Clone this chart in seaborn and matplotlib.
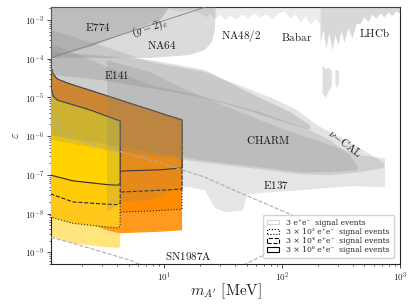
import numpy as np
import matplotlib
matplotlib.use("Agg")
import matplotlib.pyplot as plt
import seaborn as sns
from matplotlib.patches import Patch
from matplotlib.ticker import FuncFormatter, LogLocator, NullFormatter

# ---- signal regions (m in MeV, eps) ----
# yellow sample
yel_top_m = [1.0, 1.10, 1.146, 1.24, 1.51, 2.36, 4.24]
yel_top_eps = [2.0e-5, 1.74e-5, 1.08e-5, 8.5e-6, 7.1e-6, 4.7e-6, 2.44e-6]
yel_bot_m = [1.0, 1.10, 1.69, 3.29, 4.07, 4.24]
yel_bot = {
    "light": [2.9e-9, 2.6e-9, 1.72e-9, 1.35e-9, 1.3e-9, 1.44e-9],
    "dot": [8.8e-9, 8.1e-9, 5.6e-9, 4.5e-9, 4.3e-9, 4.7e-9],
    "dash": [3.5e-8, 3.2e-8, 2.0e-8, 1.75e-8, 1.7e-8, 1.86e-8],
    "solid": [1.05e-7, 9.8e-8, 7.0e-8, 5.6e-8, 5.4e-8, 6.1e-8],
}
# orange sample
org_top_m = [1.0, 1.10, 1.146, 1.24, 1.51, 2.87, 6.26, 14.2]
org_top_eps = [7.0e-5, 6.1e-5, 4.0e-5, 3.0e-5, 2.34e-5, 1.25e-5, 5.8e-6, 2.6e-6]
org_bot_m = [1.0, 2.36, 2.71, 3.29, 4.24, 9.25, 14.2]
org_bot = {
    "light": [9.0e-9, 5.3e-9, 4.7e-9, 3.7e-9, 3.1e-9, 3.4e-9, 3.7e-9],
    "dot": [1.1e-8, 1.1e-8, 1.1e-8, 1.1e-8, 1.09e-8, 1.2e-8, 1.3e-8],
    "dash": [3.8e-8, 3.7e-8, 3.6e-8, 3.6e-8, 3.6e-8, 4.0e-8, 4.3e-8],
    "solid": [1.3e-7, 1.28e-7, 1.26e-7, 1.25e-7, 1.25e-7, 1.35e-7, 1.5e-7],
}
yel_cols = {"light": "#FFE57C", "dot": "#FFC81A", "dash": "#FFCA08", "solid": "#FFD200"}
org_cols = {"light": "#FF9A1E", "dot": "#FF8C00", "dash": "#FF8C00", "solid": "#FF8E04"}
styles = {"light": None, "dot": ":", "dash": "--", "solid": "-"}

# ---- existing limits (polygons) ----
e137_m = [3.29, 7.61, 14.2, 36.3, 96.2, 255, 458, 746, 746, 377, 142, 65.1, 50.5,
          46.7, 32.9, 27.0, 22.2, 16.6, 14.2, 7.61, 4.24, 3.29]
e137_eps = [9.2e-5, 4.5e-5, 1.74e-5, 5.3e-6, 1.61e-6, 5.9e-7, 3.2e-7, 2.7e-7, 4.8e-8,
            5.1e-8, 4.0e-8, 3.4e-8, 3.0e-8, 1.22e-8, 1.09e-8, 1.38e-8, 4.0e-8, 4.8e-8,
            4.8e-8, 2.2e-8, 1.97e-8, 1.09e-8]
nucal_m = [1.0, 2.87, 7.61, 22.2, 90.7, 134, 198, 342, 486, 718, 740, 718, 458, 255,
           142, 53.5, 20.2, 7.61, 3.29, 1.0]
nucal_eps = [6e-4, 2.25e-4, 8.2e-5, 4.5e-5, 8.5e-6, 4.7e-6, 1.92e-6, 7.9e-7, 4.35e-7,
             2.13e-7, 1.8e-7, 1.49e-7, 1.17e-7, 9.8e-8, 1.04e-7, 1.49e-7, 2.13e-7,
             3.2e-7, 4.35e-7, 8.5e-7]
charm_m = [1.0, 7.61, 22.2, 65.1, 148, 255, 377, 432, 440, 432, 255, 142, 53.5, 20.2,
           7.61, 1.0]
charm_eps = [2.8e-4, 2.08e-5, 1.02e-5, 4.2e-6, 1.71e-6, 7.9e-7, 3.2e-7, 1.68e-7, 1.5e-7,
             1.32e-7, 1.17e-7, 1.17e-7, 1.68e-7, 2.4e-7, 3.9e-7, 1.1e-6]
e141_m = [1.0, 2.87, 7.61, 22.2, 53.5, 117, 173, 173, 96.2, 44.0, 20.2, 7.61, 2.87, 1.0]
e141_eps = [1.5e-4, 1.2e-4, 9.2e-5, 5.1e-5, 1.29e-5, 4.2e-6, 1.92e-6, 1.43e-6, 2.44e-6,
            5.3e-6, 1.02e-5, 1.74e-5, 2.8e-5, 4.0e-5]
e774_m = [1.0, 12.4, 9.25, 5.15, 2.36, 1.0]
e774_eps = [3.3e-3, 3.3e-3, 1.0e-3, 5.0e-4, 2.0e-4, 1.0e-4]
na64_m = [1.0, 27.5, 27.0, 25.5, 22.2, 16.6, 7.61, 1.0]
na64_eps = [3.3e-3, 3.3e-3, 5.5e-4, 2.7e-4, 1.67e-4, 1.24e-4, 1.04e-4, 1.04e-4]

na48_m = [11.2, 13.7, 16.6, 20.2, 22.7, 24.5, 27.0, 29.8, 32.9, 36.3, 40.7, 45.8, 51.5,
          57.9, 65.1, 73.2, 82.3, 92.5, 104, 117, 129, 142, 157, 173, 190, 210]
na48_eps = [1.91e-3, 1.70e-3, 1.80e-3, 1.51e-3, 1.19e-3, 1.51e-3, 1.05e-3, 1.42e-3,
            9.9e-4, 1.34e-3, 1.05e-3, 1.42e-3, 1.12e-3, 1.51e-3, 1.19e-3, 1.42e-3,
            1.05e-3, 1.51e-3, 1.70e-3, 1.12e-3, 1.42e-3, 8.8e-4, 1.26e-3, 7.4e-4,
            1.12e-3, 7.8e-4]
lhcb_m = [210, 223, 236, 250, 265, 281, 298, 316, 335, 362, 392, 424, 458, 495, 535,
          579, 626, 677, 731, 791, 855, 925, 1000]
lhcb_eps = [2.7e-4, 5.5e-4, 1.88e-4, 4.7e-4, 1.67e-4, 4.1e-4, 2.25e-4, 5.5e-4, 2.7e-4,
            6.2e-4, 3.4e-4, 8.0e-4, 8.0e-4, 1.2e-3, 9.0e-4, 1.4e-3, 1.1e-3, 1.5e-3,
            1.2e-3, 1.6e-3, 1.3e-3, 1.7e-3, 1.5e-3]
lhcb_spk_m = [[218, 232, 248, 262], [281, 290, 300]]
lhcb_spk_lo = [[1.3e-5, 1.0e-5, 1.5e-5, 2.0e-5], [2.1e-5, 1.8e-5, 2.4e-5]]
lhcb_spk_hi = [[6.8e-5, 5.5e-5, 6.0e-5, 5.0e-5], [5.7e-5, 5.0e-5, 5.4e-5]]

gm2_m = [1.1, 25]
gm2_eps = [1.04e-4, 2.4e-3]
sn_up_m = [1.146, 1.31, 1.69, 3.29, 6.26, 13.7, 22.2, 42.4, 67.7, 117, 190, 245, 202,
           129, 82.3, 48.5, 42.4]
sn_up_eps = [3.9e-6, 1.43e-6, 8.9e-7, 4.9e-7, 2.9e-7, 1.40e-7, 8.7e-8, 3.6e-8, 1.97e-8,
             9.6e-9, 4.7e-9, 2.6e-9, 1.72e-9, 1.28e-9, 1.07e-9, 4.9e-10, 3.9e-10]
sn_lo_m = [1.10, 1.69, 3.49, 5.15, 6.51]
sn_lo_eps = [2.45e-9, 1.72e-9, 8.9e-10, 6.25e-10, 4.6e-10]

labels = [("$\\mathrm{E774}$", 2.76, 6.6e-4, 0), ("$(g-2)_e$", 7.6, 6.3e-4, 17),
          ("$\\mathrm{NA64}$", 9.6, 2.25e-4, 0), ("$\\mathrm{E141}$", 4.0, 3.8e-5, 0),
          ("$\\mathrm{NA48/2}$", 45, 3.8e-4, 0), ("$\\mathrm{Babar}$", 134, 3.8e-4, 0),
          ("$\\mathrm{LHCb}$", 614, 4.7e-4, 0), ("$\\mathrm{CHARM}$", 76, 7.9e-7, 0),
          ("$\\nu\\mathrm{-CAL}$", 342, 6.6e-7, -37), ("$\\mathrm{E137}$", 89, 5.4e-8, 0),
          ("$\\mathrm{SN1987A}$", 16.0, 7.9e-10, 0)]
legend_names = ["3 e\u207ae\u207b  signal events",
                "3 \u00d7 10\u00b2 e\u207ae\u207b  signal events",
                "3 \u00d7 10\u2074 e\u207ae\u207b  signal events",
                "3 \u00d7 10\u2076 e\u207ae\u207b  signal events"]
xticks = [10, 100, 1000]
yticks = [1e-9, 1e-8, 1e-7, 1e-6, 1e-5, 1e-4, 1e-3]

sns.set_style("ticks")
plt.rcParams["mathtext.fontset"] = "cm"

fig = plt.figure(figsize=(4.11, 3.07), dpi=100)
ax = fig.add_axes([51 / 411, 43 / 307, 349 / 411, 257 / 307])
ax.set_xscale("log")
ax.set_yscale("log")


def band(top_m, top_eps, bm, be, col, ls, z):
    xs = list(top_m) + list(bm)[::-1]
    ys = list(top_eps) + list(be)[::-1]
    if ls is None:
        ax.fill(xs, ys, facecolor=col, edgecolor="none", zorder=z)
    else:
        ax.fill(xs, ys, facecolor=col, edgecolor="#2a2a2a", lw=0.8, linestyle=ls, zorder=z)


band(yel_top_m, yel_top_eps, yel_bot_m, yel_bot["light"], yel_cols["light"], None, 1)
for i, k in enumerate(["light", "dot", "dash", "solid"]):
    band(org_top_m, org_top_eps, org_bot_m, org_bot[k], org_cols[k], styles[k], 2 + i * 0.1)
for i, k in enumerate(["dot", "dash", "solid"]):
    band(yel_top_m, yel_top_eps, yel_bot_m, yel_bot[k], yel_cols[k], styles[k], 3 + i * 0.1)

gray = "0.5"
for xs, ys, a in [(e137_m, e137_eps, 0.2), (nucal_m, nucal_eps, 0.22), (charm_m, charm_eps, 0.22),
                  (e141_m, e141_eps, 0.26), (na64_m, na64_eps, 0.28), (e774_m, e774_eps, 0.32)]:
    ax.fill(xs, ys, color=gray, alpha=a, lw=0, zorder=4)
ax.fill_between(na48_m, na48_eps, 3.3e-3, color=gray, alpha=0.15, lw=0, zorder=4)
ax.fill_between(lhcb_m, lhcb_eps, 3.3e-3, color=gray, alpha=0.3, lw=0, zorder=4)
for xs, lo, hi in zip(lhcb_spk_m, lhcb_spk_lo, lhcb_spk_hi):
    ax.fill_between(xs, lo, hi, color=gray, alpha=0.25, lw=0, zorder=4)

sns.lineplot(x=gm2_m, y=gm2_eps, ax=ax, color="0.5", lw=0.6, sort=False, estimator=None, zorder=5)
sns.lineplot(x=sn_up_m, y=sn_up_eps, ax=ax, color="0.68", lw=0.8, ls="--", sort=False,
             estimator=None, zorder=5)
sns.lineplot(x=sn_lo_m, y=sn_lo_eps, ax=ax, color="0.68", lw=0.8, ls="--", sort=False,
             estimator=None, zorder=5)

for txt, xm, ye, rot in labels:
    ax.text(xm, ye, txt, fontsize=8, ha="center", va="center", rotation=rot,
            color="#1a1a1a", zorder=6)

ax.set_xlim(1.1, 1000)
ax.set_ylim(5e-10, 2.15e-3)
ax.set_xticks(xticks)
ax.set_yticks(yticks)
fmt = FuncFormatter(lambda v, p: r"$10^{%d}$" % int(round(np.log10(v))))
ax.xaxis.set_major_formatter(fmt)
ax.yaxis.set_major_formatter(fmt)
ax.yaxis.set_minor_locator(LogLocator(base=10, subs=np.arange(2, 10), numticks=20))
ax.xaxis.set_minor_formatter(NullFormatter())
ax.yaxis.set_minor_formatter(NullFormatter())
ax.tick_params(which="major", labelsize=6.5, length=3, width=0.6, pad=2)
ax.tick_params(which="minor", length=1.6, width=0.5)
for s in ax.spines.values():
    s.set_linewidth(0.8)

ax.set_xlabel(r"$m_{A'}\ [\mathrm{MeV}]$", fontsize=11, labelpad=-2)
ax.set_ylabel(r"$\varepsilon$", fontsize=9, labelpad=2)

handles = [Patch(facecolor="white", edgecolor="0.8", lw=0.6),
           Patch(facecolor="white", edgecolor="k", lw=0.8, ls=":"),
           Patch(facecolor="white", edgecolor="k", lw=0.8, ls="--"),
           Patch(facecolor="white", edgecolor="k", lw=0.8, ls="-")]
leg = ax.legend(handles, legend_names, loc="lower right", framealpha=0.85,
                prop={"family": ["DejaVu Serif", "DejaVu Sans"], "size": 5.5},
                edgecolor="0.8", handlelength=1.6, handleheight=0.6, labelspacing=0.15,
                borderpad=0.5, borderaxespad=0.8, handletextpad=1.0)
leg.set_zorder(7)

fig.savefig("out.png", dpi=100)
